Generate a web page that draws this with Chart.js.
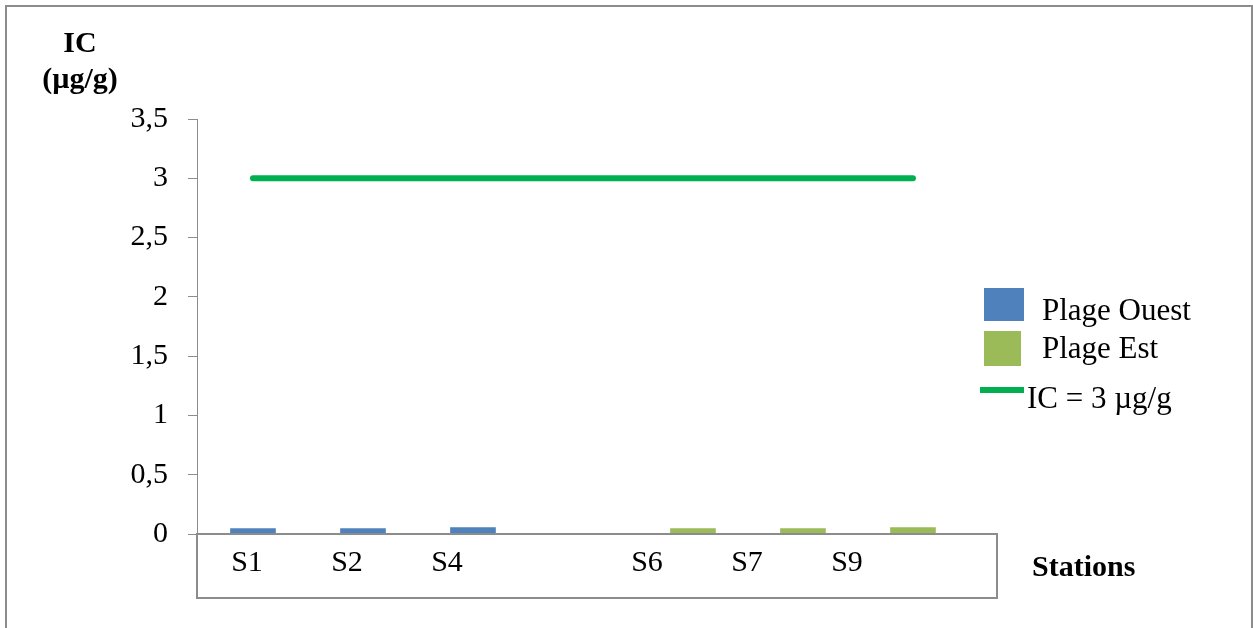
<title>IC par station</title>

<script src="https://cdn.jsdelivr.net/npm/chart.js@4/dist/chart.umd.min.js"></script>

<div id="wrap" style="width:1253px; height:628px;">
  <canvas id="icChart"></canvas>
</div>

<script>
  // stations (the empty one is the gap between the two beaches)
  const stations = ["S1", "S2", "S4", "", "S6", "S7", "S9"];
  const plageOuest = [0.045, 0.045, 0.055, null, null, null, null];
  const plageEst = [null, null, null, null, 0.045, 0.045, 0.055];
  const icLimit = [3, 3, 3, 3, 3, 3, 3];
  const yTicks = [0, 0.5, 1, 1.5, 2, 2.5, 3, 3.5];

  const serif = '"Liberation Serif", "Times New Roman", serif';
  Chart.defaults.font.family = serif;
  Chart.defaults.color = "#000";

  const toPoints = (arr) => arr.map((v, i) => ({ x: i, y: v }));

  // frame, axis title, station box, legend
  const decor = {
    id: "decor",
    afterDatasetsDraw(chart) {
      const c = chart.ctx;
      const area = chart.chartArea;
      const sx = chart.scales.x2;
      c.save();
      c.strokeStyle = "#8c8c8c";
      c.lineWidth = 2;
      c.strokeRect(6, 6, 1246, 640);
      c.strokeRect(sx.left, area.bottom, sx.right - sx.left, 64);

      c.fillStyle = "#000";
      c.font = "bold 30px " + serif;
      c.textAlign = "center";
      c.textBaseline = "alphabetic";
      c.fillText("IC", 80, 52);
      c.fillText("(µg/g)", 80, 88);
      c.textAlign = "left";
      c.fillText("Stations", 1032, 576);

      // legend
      const ds = chart.data.datasets;
      c.font = "31px " + serif;
      c.fillStyle = ds[0].backgroundColor;
      c.fillRect(984, 288, 40, 33);
      c.fillStyle = ds[1].backgroundColor;
      c.fillRect(984, 331, 37, 35);
      c.strokeStyle = ds[2].borderColor;
      c.lineWidth = 6;
      c.beginPath();
      c.moveTo(980, 390);
      c.lineTo(1024, 390);
      c.stroke();
      c.fillStyle = "#000";
      c.fillText(ds[0].label, 1042, 320);
      c.fillText(ds[1].label, 1042, 358);
      c.fillText(ds[2].label, 1027, 408);
      c.restore();
    }
  };

  const ctx = document.getElementById("icChart").getContext("2d");

  const chart = new Chart(ctx, {
    type: "bar",
    data: {
      datasets: [
        {
          label: "Plage Ouest",
          data: toPoints(plageOuest),
          backgroundColor: "#4f81bd",
          grouped: false,
          barThickness: 45,
          xAxisID: "x",
          order: 2
        },
        {
          label: "Plage Est",
          data: toPoints(plageEst),
          backgroundColor: "#9bbb59",
          grouped: false,
          barThickness: 45,
          xAxisID: "x",
          order: 2
        },
        {
          type: "line",
          label: "IC = 3 µg/g",
          data: toPoints(icLimit),
          borderColor: "#00b050",
          backgroundColor: "#00b050",
          borderWidth: 6,
          borderCapStyle: "round",
          pointRadius: 0,
          xAxisID: "x",
          order: 1
        }
      ]
    },
    options: {
      responsive: true,
      maintainAspectRatio: false,
      animation: false,
      layout: { padding: { left: 0, right: 256, top: 119, bottom: 30 } },
      plugins: {
        legend: { display: false },
        tooltip: { enabled: false }
      },
      scales: {
        x: {
          type: "linear",
          display: false,
          offset: false,
          min: -0.509,
          max: 6.764
        },
        x2: {
          type: "category",
          position: "bottom",
          labels: [...stations, ""],
          offset: true,
          grid: { display: false },
          border: { display: false },
          ticks: { font: { size: 30 }, padding: 3, maxRotation: 0, autoSkip: false },
          afterFit(scale) { scale.height = 64; }
        },
        y: {
          min: 0,
          max: 3.5,
          afterBuildTicks(scale) { scale.ticks = yTicks.map(v => ({ value: v })); },
          afterFit(scale) { scale.width = 197; },
          grid: { drawOnChartArea: false, color: "#8c8c8c", tickLength: 9 },
          border: { color: "#8c8c8c", width: 1 },
          ticks: {
            font: { size: 30 },
            padding: 20,
            callback: (v) => String(v).replace(".", ",")
          }
        }
      }
    },
    plugins: [decor]
  });
</script>

<style>
  body{
    margin: 0;
    background: #fff;
  }
</style>
